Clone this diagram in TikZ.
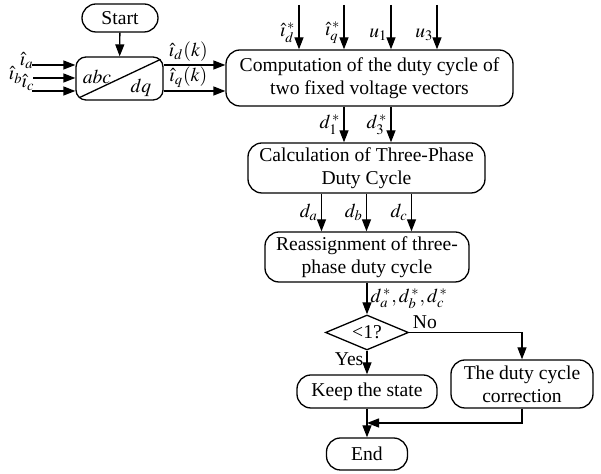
\documentclass[tikz,border=0pt]{standalone}
\usepackage{mathptmx}
\usepackage[no-math]{fontspec}
\setmainfont{Liberation Serif}
\usetikzlibrary{arrows.meta,calc,positioning,shapes.geometric}
\newdimen\rdim
\rdim=7pt
\tikzstyle{block}=[
  draw=black,
  font={\fontsize{9.8}{11.5}\selectfont},
  inner sep=0pt,
  line width=.65pt,
  rectangle,
  rounded corners=\rdim,
  align=center,
]
\tikzstyle{decision}=[
  draw=black,
  font={\fontsize{9.8}{11.5}\selectfont},
  diamond,
  aspect=2.4,
  inner sep=0pt,
  line width=.65pt,
  minimum width=41.5pt,
  minimum height=17.5pt,
]
\tikzstyle{lbl}=[
  font={\fontsize{9.8}{11.5}\selectfont},
  inner sep=1.5pt,
]
\tikzstyle{arrow}=[
  draw=black,
  line width=.65pt,
]
\tikzset{
  >={Triangle[length=6pt,width=4.5pt]},
}
\begin{document}
\begin{tikzpicture}[x=.5pt,y=-.5pt]
  \useasboundingbox (0,0) rectangle (601,474);
  % blocks
  \node (start) [block, minimum width=38pt, minimum height=14pt] at (120,18) {Start};
  \node (conv) [block, rounded corners=5pt, minimum width=43.5pt, minimum height=21.5pt] at (119.5,78.5) {};
  \node (abc) [lbl] at (97,77) {$abc$};
  \node (dq) [lbl] at (141,88) {$dq$};
  \draw [arrow] ([xshift=2pt,yshift=1.5pt]conv.south west) -- ([xshift=-1.5pt,yshift=-1.5pt]conv.north east);
  \node (comp) [block, minimum width=143.5pt, minimum height=28pt] at (369.5,78) {Computation of the duty cycle of\\two fixed voltage vectors};
  \node (calc) [block, minimum width=118.5pt, minimum height=25pt] at (366.5,168) {Calculation of Three-Phase\\Duty Cycle};
  \node (reass) [block, minimum width=102pt, minimum height=25pt] at (367,257) {Reassignment of three-\\phase duty cycle};
  \node (check) [decision] at (367,332.5) {<1?};
  \node (keep) [block, minimum width=70pt, minimum height=16.5pt] at (367,391.5) {Keep the state};
  \node (corr) [block, minimum width=71pt, minimum height=24pt] at (522,384) {The duty cycle\\correction};
  \node (end) [block, minimum width=40.5pt, minimum height=16pt] at (367,454) {End};
  % free ends
  \coordinate (ia) at (32,65);
  \coordinate (ib) at (33,78);
  \coordinate (ic) at (32,91);
  \coordinate (tid) at (299,5);
  \coordinate (tiq) at (344,5);
  \coordinate (tu1) at (391,5);
  \coordinate (tu3) at (437,5);
  % connectors
  \draw [->, arrow] (start) -- (conv);
  \draw [->, arrow] (ia) -- (ia -| conv.west);
  \draw [->, arrow] (ib) -- (ib -| conv.west);
  \draw [->, arrow] (ic) -- (ic -| conv.west);
  \node (lia) [lbl, anchor=east, inner sep=0pt] at ([xshift=1pt,yshift=2pt]ia) {$\hat{\imath}_a$};
  \node (lib) [lbl, anchor=east, inner sep=0pt] at ([xshift=-5pt,yshift=1.5pt]ib) {$\hat{\imath}_b$};
  \node (lic) [lbl, anchor=east, inner sep=0pt] at ([xshift=1.5pt,yshift=4pt]ic) {$\hat{\imath}_c$};
  \draw [->, arrow] (conv.east |- ia) -- (comp.west |- ia) node [lbl, pos=.4, above] {$\hat{\imath}_d(k)$};
  \draw [->, arrow] (conv.east |- ic) -- (comp.west |- ic) node [lbl, pos=.4, above] {$\hat{\imath}_q(k)$};
  \draw [->, arrow] (tid) -- (tid |- comp.north) node [lbl, pos=.62, left] {$\hat{\imath}_d^{\,*}$};
  \draw [->, arrow] (tiq) -- (tiq |- comp.north) node [lbl, pos=.62, left] {$\hat{\imath}_q^{\,*}$};
  \draw [->, arrow] (tu1) -- (tu1 |- comp.north) node [lbl, pos=.67, left] {$u_1$};
  \draw [->, arrow] (tu3) -- (tu3 |- comp.north) node [lbl, pos=.67, left] {$u_3$};
  \draw [->, arrow] (comp.south -| tiq) -- (calc.north -| tiq) node [lbl, midway, left] {$d_1^{\,*}$};
  \draw [->, arrow] (comp.south -| tu1) -- (calc.north -| tu1) node [lbl, midway, left] {$d_3^{\,*}$};
  \draw [->, arrow] ([xshift=-22.5pt]calc.south) -- ([xshift=-22.5pt]calc.south |- reass.north) node [lbl, midway, left] {$d_a$};
  \draw [->, arrow] (calc.south) -- (calc.south |- reass.north) node [lbl, midway, left] {$d_b$};
  \draw [->, arrow] ([xshift=22.5pt]calc.south) -- ([xshift=22.5pt]calc.south |- reass.north) node [lbl, midway, left] {$d_c$};
  \draw [->, arrow] (reass.south -| check.north) -- (check.north) node [lbl, midway, right] {$d_a^{\,*},d_b^{\,*},d_c^{\,*}$};
  \draw [->, arrow] (check.south) -- (keep.north) node [lbl, pos=.35, left] {Yes};
  \draw [->, arrow] (check.east) -| (corr.north) node [lbl, pos=.07, above] {No};
  \draw [->, arrow] (keep.south) -- (end.north);
  \draw [->, arrow] (corr.south) |- ($(keep.south)!.5!(end.north)$);
\end{tikzpicture}
\end{document}
